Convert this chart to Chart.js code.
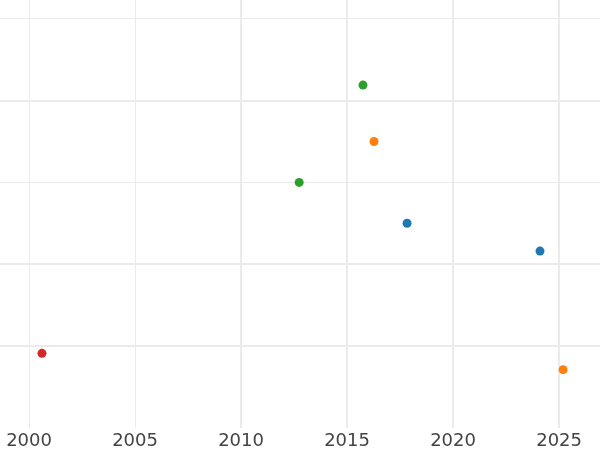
<!DOCTYPE html>
<html>
<head>
<meta charset="utf-8">
<script src="https://cdn.jsdelivr.net/npm/chart.js@4/dist/chart.umd.min.js"></script>
<style>
  html, body { margin: 0; padding: 0; background: #fff; }
  #wrap { width: 600px; height: 450px; }
</style>
</head>
<body>
<div id="wrap"><canvas id="chart" width="600" height="450"></canvas></div>
<script>
// ---------- data ----------
const blueYears = [2017.83, 2024.10];
const blueValues = [2.50, 2.16];
const orangeYears = [2016.27, 2025.19];
const orangeValues = [3.50, 0.71];
const greenYears = [2015.75, 2012.74];
const greenValues = [4.19, 3.00];
const redYears = [2000.61];
const redValues = [0.91];

const xTicks = [2000, 2005, 2010, 2015, 2020, 2025];
const yTicks = [0, 1, 2, 3, 4, 5];

// ---------- styling ----------
const GRID = '#ebebeb';
const thickX = [2010, 2015, 2020, 2025];
const thickY = [1, 2, 4];

function toPoints(xs, ys) {
  return xs.map((x, i) => ({ x: x, y: ys[i] }));
}

function series(label, xs, ys, color) {
  return {
    label: label,
    data: toPoints(xs, ys),
    backgroundColor: color,
    borderWidth: 0,
    pointRadius: 4.5,
    pointHoverRadius: 4.5
  };
}

new Chart(document.getElementById('chart'), {
  type: 'scatter',
  data: {
    datasets: [
      series('blue', blueYears, blueValues, '#1f77b4'),
      series('orange', orangeYears, orangeValues, '#ff7f0e'),
      series('green', greenYears, greenValues, '#2ca02c'),
      series('red', redYears, redValues, '#d62728')
    ]
  },
  options: {
    responsive: false,
    animation: false,
    layout: { padding: 0, autoPadding: false },
    plugins: {
      legend: { display: false },
      tooltip: { enabled: false }
    },
    scales: {
      x: {
        type: 'linear',
        min: 1998.63,
        max: 2026.93,
        afterBuildTicks: axis => { axis.ticks = xTicks.map(v => ({ value: v })); },
        afterFit: axis => { axis.height = 22.25; },
        border: { display: false },
        grid: {
          color: GRID,
          drawTicks: false,
          lineWidth: ctx => (ctx.tick && thickX.includes(ctx.tick.value)) ? 2 : 1
        },
        ticks: {
          padding: 5,
          color: '#444',
          font: { family: 'DejaVu Sans', size: 18, lineHeight: 1 },
          callback: v => String(v)
        }
      },
      y: {
        type: 'linear',
        min: 0,
        max: 5.23,
        afterBuildTicks: axis => { axis.ticks = yTicks.map(v => ({ value: v })); },
        border: { display: false },
        grid: {
          color: GRID,
          drawTicks: false,
          lineWidth: ctx => {
            if (!ctx.tick || ctx.tick.value === 0) return 0;
            return thickY.includes(ctx.tick.value) ? 2 : 1;
          }
        },
        ticks: { display: false }
      }
    }
  }
});
</script>
</body>
</html>
